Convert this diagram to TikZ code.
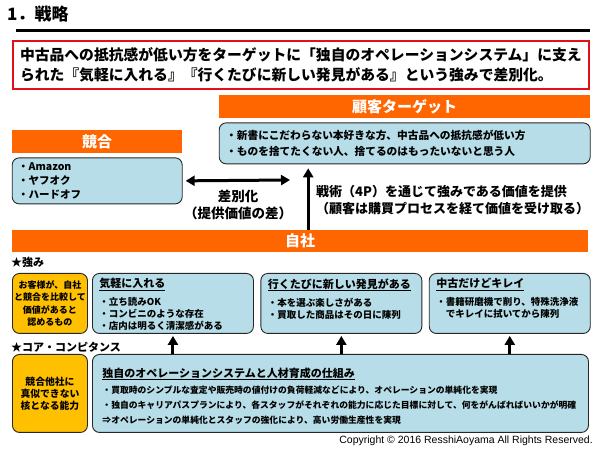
\documentclass[tikz,border=0pt]{standalone}
\usepackage{fontspec}
\setmainfont{Noto Sans CJK JP}
\newfontfamily\latinfont{Liberation Sans}
\usetikzlibrary{positioning,arrows.meta}
\definecolor{BarOrange}{HTML}{FF6600}
\definecolor{PaleTeal}{HTML}{B7DEE8}
\definecolor{AmberGold}{HTML}{FFC000}
\definecolor{AlertRed}{HTML}{E3101A}
\definecolor{InkGray}{HTML}{262626}
\newcommand{\cardbody}[4]{\parbox[c][#2][t]{#1}{\fontsize{11}{14}\selectfont\underline{#3}\par #4}}

\begin{document}
\begin{tikzpicture}[x=1pt,y=1pt,
  bar/.style={fill=BarOrange,text=white,minimum height=23pt,inner sep=0pt,font=\fontsize{15}{15}\selectfont\bfseries},
  card/.style={draw=InkGray,line width=0.9pt,rounded corners=7pt,fill=PaleTeal,font=\bfseries},
  goldcard/.style={card,fill=AmberGold,inner sep=0pt,align=center},
  heading/.style={anchor=west,inner sep=0pt,font=\fontsize{11}{11}\selectfont\bfseries},
  bigarrow/.style={-{Triangle[width=10pt,length=9pt]},line width=3pt},
  twoway/.style={{Triangle[width=10pt,length=9pt]}-{Triangle[width=10pt,length=9pt]},line width=3pt}]
  \useasboundingbox (0,0) rectangle (600,450);
  \node[anchor=west,inner sep=0pt,font=\fontsize{17}{17}\selectfont\bfseries] (title) at (7,436) {1．戦略};
  \draw[line width=3pt] (16,419) -- (590,419);
  \node[draw=AlertRed,line width=2pt,anchor=north west,minimum width=576pt,minimum height=48pt,inner xsep=7pt,inner ysep=0pt,text width=562pt,align=left,font=\fontsize{14.8}{20}\selectfont\bfseries] (claim) at (12,410)
    {中古品への抵抗感が低い方をターゲットに「独自のオペレーションシステム」に支え\\られた『気軽に入れる』『行くたびに新しい発見がある』という強みで差別化。};

  \node[bar,anchor=north west,minimum width=371pt] (tgthead) at (219,355) {顧客ターゲット};
  \node[card,below=4pt of tgthead,minimum height=41pt,text width=357pt,inner xsep=7pt,inner ysep=0pt,align=left,font=\fontsize{10.7}{16}\selectfont\bfseries] (tgt)
    {・新書にこだわらない本好きな方、中古品への抵抗感が低い方\\・ものを捨てたくない人、捨てるのはもったいないと思う人};

  \node[bar,anchor=north west,minimum width=170pt] (comphead) at (12,320) {競合};
  \node[card,below=4pt of comphead,minimum height=46pt,text width=158pt,inner xsep=6pt,inner ysep=0pt,align=left,font=\fontsize{10.5}{14}\selectfont\bfseries] (comp)
    {・Amazon\\・ヤフオク\\・ハードオフ};

  \coordinate (diffend) at (290,270);
  \draw[twoway] ([xshift=3pt]comp.east) -- (diffend);
  \node[align=center,font=\fontsize{13.5}{17}\selectfont\bfseries] (diff) at (238,245) {差別化\\（提供価値の差）};

  \node[bar,anchor=north west,minimum width=576pt,minimum height=22pt] (self) at (12,220) {自社};
  \draw[bigarrow,shorten >=4pt] ([xshift=8pt]self.north) -- ([xshift=8pt]self.north |- tgt.south);
  \node[anchor=west,align=left,inner sep=0pt,font=\fontsize{13}{16.5}\selectfont\bfseries] (tactic) at (316,250)
    {戦術（4P）を通じて強みである価値を提供\\（顧客は購買プロセスを経て価値を受け取る）};

  \node[heading] (strengthlbl) at (11,188) {★強み};
  \node[goldcard,anchor=north west,minimum width=75pt,minimum height=60pt,text width=75pt,font=\fontsize{9}{12.5}\selectfont\bfseries] (value) at (12,177)
    {お客様が、自社\\と競合を比較して\\価値があると\\認めるもの};
  \node[card,anchor=north west,inner xsep=7pt,inner ysep=5pt] (ease) at (92,177)
    {\cardbody{147pt}{50pt}{気軽に入れる}{\vspace{6pt}\fontsize{9.5}{12}\selectfont ・立ち読みOK\\・コンビニのような存在\\・店内は明るく清潔感がある}};
  \node[card,right=6.5pt of ease,inner xsep=7pt,inner ysep=5pt] (discover)
    {\cardbody{147pt}{50pt}{行くたびに新しい発見がある}{\vspace{6pt}\fontsize{9.5}{12}\selectfont ・本を選ぶ楽しさがある\\・買取した商品はその日に陳列}};
  \node[card,right=6.5pt of discover,inner xsep=7pt,inner ysep=5pt] (clean)
    {\cardbody{147pt}{50pt}{中古だけどキレイ}{\vspace{6pt}\fontsize{9.5}{12}\selectfont ・書籍研磨機で削り、特殊洗浄液\\\hspace*{1em}でキレイに拭いてから陳列}};

  \node[heading] (corelbl) at (11,103) {★コア・コンピタンス};
  \node[goldcard,anchor=north west,minimum width=75pt,minimum height=78pt,text width=75pt,font=\fontsize{9.8}{12}\selectfont\bfseries] (corevalue) at (12,96)
    {競合他社に\\真似できない\\核となる能力};
  \node[card,anchor=north west,inner xsep=10pt,inner ysep=13pt] (core) at (92,96)
    {\cardbody{476pt}{52pt}{独自のオペレーションシステムと人材育成の仕組み}{\vspace{1pt}\fontsize{8.8}{15}\selectfont ・買取時のシンプルな査定や販売時の値付けの負荷軽減などにより、オペレーションの単純化を実現\\・独自のキャリアパスプランにより、各スタッフがそれぞれの能力に応じた目標に対して、何をがんばればいいかが明確\\⇒オペレーションの単純化とスタッフの強化により、高い労働生産性を実現}};

  \draw[bigarrow,shorten >=2pt] (ease.south |- core.north) -- (ease.south);
  \draw[bigarrow,shorten >=2pt] (discover.south |- core.north) -- (discover.south);
  \draw[bigarrow,shorten >=2pt] (clean.south |- core.north) -- (clean.south);

  \node[anchor=east,inner sep=0pt,font=\latinfont\fontsize{10.5}{10.5}\selectfont] (copy) at (593,9) {Copyright © 2016 ResshiAoyama All Rights Reserved.};
\end{tikzpicture}
\end{document}
